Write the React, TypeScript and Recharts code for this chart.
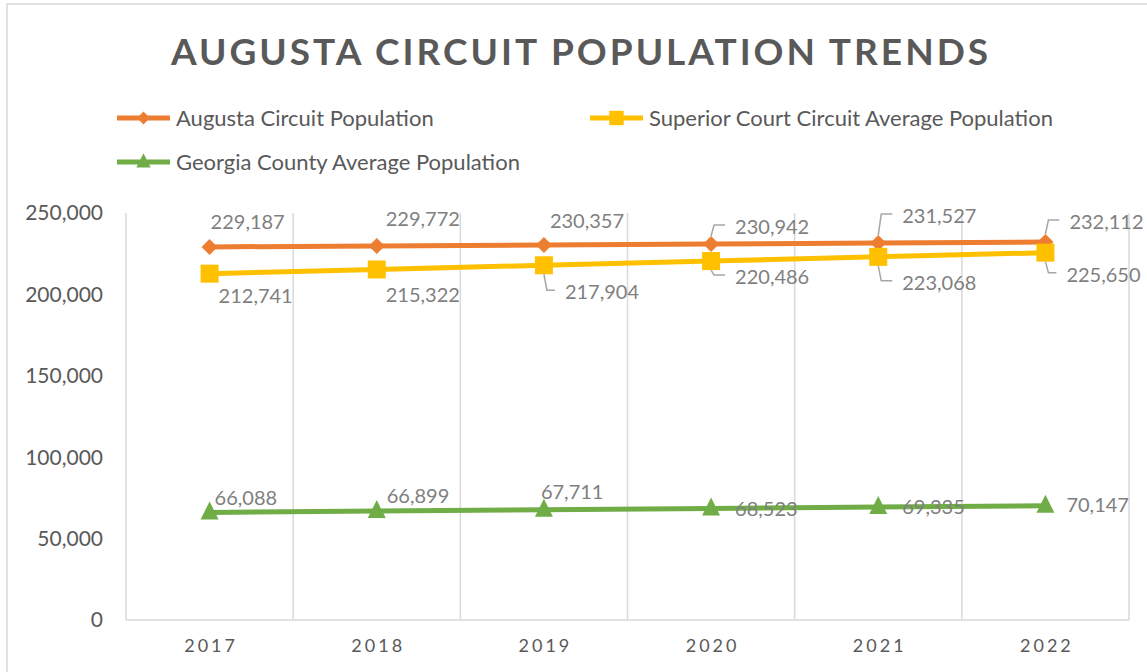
import React from 'react';
import { LineChart, Line, XAxis, YAxis, CartesianGrid, LabelList, Legend } from 'recharts';

const years = ['2017', '2018', '2019', '2020', '2021', '2022'];
const augustaPop = [229187, 229772, 230357, 230942, 231527, 232112];
const superiorAvg = [212741, 215322, 217904, 220486, 223068, 225650];
const georgiaAvg = [66088, 66899, 67711, 68523, 69335, 70147];
const yTicks = [0, 50000, 100000, 150000, 200000, 250000];

const data = years.map((year, i) => ({
  year,
  augusta: augustaPop[i],
  superior: superiorAvg[i],
  georgia: georgiaAvg[i],
}));

// label offsets relative to each point (Excel-style placement)
const augustaLabelPos = [
  { dx: 1, dy: -25 },
  { dx: 9, dy: -27 },
  { dx: 6, dy: -24 },
  { dx: 24, dy: -17, leader: true },
  { dx: 24, dy: -27, leader: true },
  { dx: 24, dy: -20, leader: true },
];
const superiorLabelPos = [
  { dx: 9, dy: 22 },
  { dx: 9, dy: 26 },
  { dx: 21, dy: 27, leader: true },
  { dx: 24, dy: 16, leader: true },
  { dx: 24, dy: 26, leader: true },
  { dx: 21, dy: 22, leader: true },
];
const georgiaLabelPos = [
  { dx: 5, dy: -14 },
  { dx: 10, dy: -15 },
  { dx: -3, dy: -18 },
  { dx: 24, dy: 1 },
  { dx: 24, dy: 0 },
  { dx: 21, dy: -1 },
];

const ORANGE = '#ED7D31';
const YELLOW = '#FFC000';
const GREEN = '#70AD47';
const FONT = 'Lato, "DejaVu Sans", sans-serif';
const AXIS_TEXT = '#595959';
const LABEL_TEXT = '#7f7f7f';
const GRID = '#d9d9d9';

const fmt = (v: any) => Number(v).toLocaleString('en-US');

const Marker = ({ shape, cx, cy, color, s = 1 }: any) => {
  if (shape === 'diamond') {
    const h = 8 * s;
    return <polygon points={`${cx},${cy - h} ${cx + h},${cy} ${cx},${cy + h} ${cx - h},${cy}`} fill={color} />;
  }
  if (shape === 'square') {
    const h = 9 * s;
    return <rect x={cx - h} y={cy - h} width={2 * h} height={2 * h} fill={color} />;
  }
  const w = 9 * s;
  return <polygon points={`${cx},${cy - 11 * s} ${cx + w},${cy + 7 * s} ${cx - w},${cy + 7 * s}`} fill={color} />;
};

const makeDot = (shape: string, color: string) => (props: any) => {
  const { cx, cy, index } = props;
  if (cx == null || cy == null) return <g key={`d-${index}`} />;
  return <Marker key={`d-${shape}-${index}`} shape={shape} cx={cx} cy={cy} color={color} />;
};

const makeLabel = (pos: any[], below: boolean, markerHalf: number) => (props: any) => {
  const vb = props.viewBox || {};
  const x = Number(props.x ?? vb.x);
  const y = Number(props.y ?? vb.y);
  const i = props.index;
  const p = pos[i] || { dx: 0, dy: 0 };
  const ly = y + p.dy - 2;
  return (
    <g key={`lbl-${i}-${p.dy}`}>
      {p.leader && (
        <path
          d={`M${x},${below ? y + markerHalf : y - markerHalf} L${x + 3},${ly} L${x + p.dx - 10},${ly}`}
          stroke="#a6a6a6"
          strokeWidth={1.5}
          fill="none"
        />
      )}
      <text
        x={x + p.dx}
        y={y + p.dy}
        dy="0.35em"
        textAnchor="start"
        fill={LABEL_TEXT}
        fontSize={20}
        fontFamily={FONT}
      >
        {fmt(props.value)}
      </text>
    </g>
  );
};

const series = [
  { key: 'augusta', name: 'Augusta Circuit Population', color: ORANGE, shape: 'diamond', lx: 117, ly: 118 },
  { key: 'superior', name: 'Superior Court Circuit Average Population', color: YELLOW, shape: 'square', lx: 590, ly: 118 },
  { key: 'georgia', name: 'Georgia County Average Population', color: GREEN, shape: 'triangle', lx: 117, ly: 162 },
];

const LegendContent = () => (
  <svg width={1147} height={200} style={{ display: 'block' }}>
    {series.map((s) => (
      <g key={s.key}>
        <line x1={s.lx} y1={s.ly} x2={s.lx + 53} y2={s.ly} stroke={s.color} strokeWidth={5} />
        <Marker shape={s.shape} cx={s.lx + 26.5} cy={s.ly} color={s.color} s={0.8} />
        <text x={s.lx + 59} y={s.ly} dy="0.35em" fill={AXIS_TEXT} fontSize={22} fontFamily={FONT}>
          {s.name}
        </text>
      </g>
    ))}
  </svg>
);

const XTick = (props: any) => {
  const { x, y, payload } = props;
  return (
    <text
      x={x + 1.5}
      y={y}
      dy="0.71em"
      textAnchor="middle"
      fill={AXIS_TEXT}
      fontSize={18}
      fontFamily={FONT}
      style={{ letterSpacing: '3px' }}
    >
      {payload.value}
    </text>
  );
};

export default function App() {
  return (
    <div
      style={{
        position: 'absolute',
        left: 0,
        top: 0,
        width: 1147,
        height: 672,
        overflow: 'hidden',
        background: '#fff',
      }}
    >
      <svg width={1147} height={672} style={{ position: 'absolute', left: 0, top: 0 }}>
        <rect x={7} y={4} width={1300} height={800} fill="#fff" stroke={GRID} strokeWidth={1.5} />
        <text
          x={581}
          y={65}
          textAnchor="middle"
          fill={AXIS_TEXT}
          fontSize={37}
          fontWeight={700}
          fontFamily={FONT}
          style={{ letterSpacing: '3px' }}
        >
          AUGUSTA CIRCUIT POPULATION TRENDS
        </text>
      </svg>
      <div style={{ position: 'absolute', left: 0, top: 0 }}>
        <LineChart width={1147} height={672} data={data} margin={{ top: 213, right: 18, bottom: 0, left: 26 }}>
          <CartesianGrid
            horizontal={false}
            stroke={GRID}
            strokeWidth={1.5}
            verticalCoordinatesGenerator={({ offset }: any) =>
              Array.from({ length: years.length + 1 }, (_, i) => offset.left + (offset.width * i) / years.length)
            }
          />
          <XAxis
            dataKey="year"
            scale="band"
            height={52}
            axisLine={{ stroke: GRID, strokeWidth: 1.5 }}
            tickLine={false}
            tickSize={0}
            tickMargin={19}
            tick={<XTick />}
            interval={0}
          />
          <YAxis
            domain={[0, 250000]}
            ticks={yTicks}
            width={100}
            axisLine={false}
            tickLine={false}
            tickSize={0}
            tickMargin={23}
            tickFormatter={fmt}
            tick={{ fill: AXIS_TEXT, fontSize: 21, fontFamily: FONT }}
          />
          <Legend
            layout="horizontal"
            verticalAlign="middle"
            align="center"
            wrapperStyle={{ position: 'absolute', top: 0, left: 0, width: 1147, height: 200 }}
            content={() => <LegendContent />}
          />
          <Line
            type="linear"
            dataKey="augusta"
            name="Augusta Circuit Population"
            stroke={ORANGE}
            strokeWidth={5}
            dot={makeDot('diamond', ORANGE)}
            activeDot={false}
            isAnimationActive={false}
          >
            <LabelList dataKey="augusta" content={makeLabel(augustaLabelPos, false, 8)} />
          </Line>
          <Line
            type="linear"
            dataKey="superior"
            name="Superior Court Circuit Average Population"
            stroke={YELLOW}
            strokeWidth={5}
            dot={makeDot('square', YELLOW)}
            activeDot={false}
            isAnimationActive={false}
          >
            <LabelList dataKey="superior" content={makeLabel(superiorLabelPos, true, 9)} />
          </Line>
          <Line
            type="linear"
            dataKey="georgia"
            name="Georgia County Average Population"
            stroke={GREEN}
            strokeWidth={5}
            dot={makeDot('triangle', GREEN)}
            activeDot={false}
            isAnimationActive={false}
          >
            <LabelList dataKey="georgia" content={makeLabel(georgiaLabelPos, false, 8)} />
          </Line>
        </LineChart>
      </div>
    </div>
  );
}
